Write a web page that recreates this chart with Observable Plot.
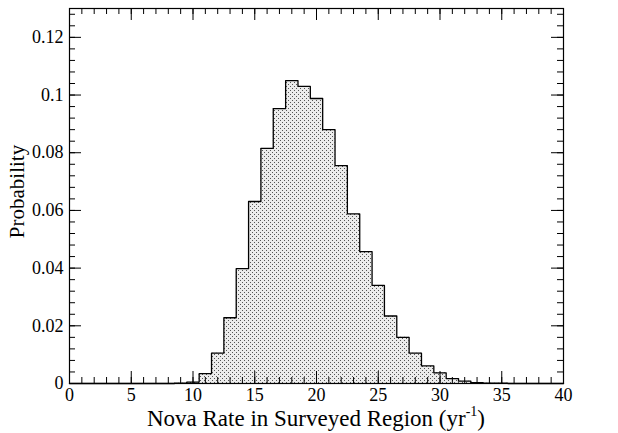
<!DOCTYPE html>
<html><head><meta charset="utf-8">
<script src="https://cdn.jsdelivr.net/npm/d3@7"></script>
<script src="https://cdn.jsdelivr.net/npm/@observablehq/plot@0.6"></script>
<style>body{margin:0;background:#fff}</style>
</head><body><div id="chart"></div>
<script>
// Histogram bins (centres, width 1 yr^-1) and probabilities
const binCenter = [9, 10, 11, 12, 13, 14, 15, 16, 17, 18, 19, 20, 21, 22, 23, 24, 25, 26, 27, 28, 29, 30, 31, 32, 33, 34, 35];
const probability = [0.0001, 0.0005, 0.0034, 0.0105, 0.0228, 0.0398, 0.0631, 0.0815, 0.0953, 0.1050, 0.1030, 0.0988, 0.0880, 0.0755, 0.0588, 0.0457, 0.0340, 0.0234, 0.0160, 0.0105, 0.0061, 0.0037, 0.0017, 0.0008, 0.0003, 0.0001, 0.0001];
const binWidth = 1;
const xTickValues = [0, 5, 10, 15, 20, 25, 30, 35, 40];
const xTickLabels = ["0", "5", "10", "15", "20", "25", "30", "35", "40"];
const yTickValues = [0, 0.02, 0.04, 0.06, 0.08, 0.1, 0.12];
const yTickLabels = ["0", "0.02", "0.04", "0.06", "0.08", "0.1", "0.12"];
const xTitle = "Nova Rate in Surveyed Region (yr";
const xTitleSup = "-1";
const yTitle = "Probability";

const W = 618, H = 433, mL = 69, mR = 55, mT = 8, mB = 50;
const innerW = W - mL - mR, innerH = H - mT - mB;
const font = "'Liberation Serif', 'Times New Roman', Times, serif";

const last = binCenter.length - 1;
const outline = [{x: 0, p: 0}]
  .concat(binCenter.map((c, i) => ({x: c - binWidth / 2, p: probability[i]})))
  .concat([{x: binCenter[last] + binWidth / 2, p: 0}, {x: 40, p: 0}]);

const xMinor = d3.range(0, 40.001, 1);
const yMinor = d3.range(0, 0.1301, 0.004);

const plot = Plot.plot({
  width: W, height: H,
  marginLeft: mL, marginRight: mR, marginTop: mT, marginBottom: mB,
  x: {domain: [0, 40], axis: null},
  y: {domain: [0, 0.13], axis: null},
  style: {fontFamily: font, fontSize: "18px", background: "white", color: "black"},
  marks: [
    Plot.areaY(outline, {x: "x", y: "p", curve: "step-after", fill: "url(#dots)"}),
    Plot.lineY(outline, {x: "x", y: "p", curve: "step-after", stroke: "black", strokeWidth: 1.3}),
    // minor ticks
    Plot.tickX(xMinor, {x: d => d, insetTop: innerH - 6, stroke: "black"}),
    Plot.tickX(xMinor, {x: d => d, insetBottom: innerH - 6, stroke: "black"}),
    Plot.tickY(yMinor, {y: d => d, insetRight: innerW - 6, stroke: "black"}),
    Plot.tickY(yMinor, {y: d => d, insetLeft: innerW - 6, stroke: "black"}),
    // major ticks
    Plot.tickX(xTickValues, {x: d => d, insetTop: innerH - 12, stroke: "black"}),
    Plot.tickX(xTickValues, {x: d => d, insetBottom: innerH - 12, stroke: "black"}),
    Plot.tickY(yTickValues, {y: d => d, insetRight: innerW - 12, stroke: "black"}),
    Plot.tickY(yTickValues, {y: d => d, insetLeft: innerW - 12, stroke: "black"}),
    Plot.frame({stroke: "black", strokeWidth: 1.2}),
    Plot.text(xTickValues, {x: d => d, text: (d, i) => xTickLabels[i], frameAnchor: "bottom", lineAnchor: "top", dy: 5, fontSize: 18, fill: "black"}),
    Plot.text(yTickValues, {y: d => d, text: (d, i) => yTickLabels[i], frameAnchor: "left", textAnchor: "end", dx: -6, fontSize: 18, fill: "black"})
  ]
});

const svg = d3.select(plot);
const defs = svg.insert("defs", ":first-child");
const pat = defs.append("pattern").attr("id", "dots").attr("patternUnits", "userSpaceOnUse")
  .attr("width", 4).attr("height", 4);
pat.append("rect").attr("width", 4).attr("height", 4).attr("fill", "#ececec");
pat.append("rect").attr("x", 0).attr("y", 0).attr("width", 1).attr("height", 1).attr("fill", "#555");
pat.append("rect").attr("x", 2).attr("y", 2).attr("width", 1).attr("height", 1).attr("fill", "#555");

const xt = svg.append("text").attr("x", mL + innerW / 2).attr("y", 426)
  .attr("text-anchor", "middle").attr("font-size", 23).attr("font-family", font).attr("fill", "black");
xt.append("tspan").text(xTitle);
xt.append("tspan").attr("dy", -10).attr("font-size", 14).text(xTitleSup);
xt.append("tspan").attr("dy", 10).text(")");

svg.append("text").attr("transform", `translate(24,${mT + innerH / 2 - 4}) rotate(-90)`)
  .attr("text-anchor", "middle").attr("font-size", 21).attr("font-family", font).attr("fill", "black")
  .text(yTitle);

document.getElementById("chart").appendChild(plot);
</script>
</body></html>
